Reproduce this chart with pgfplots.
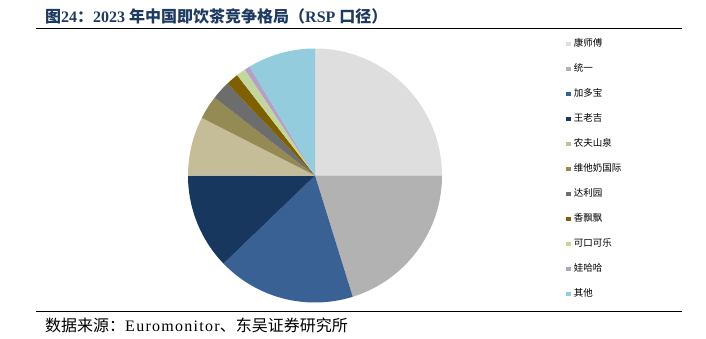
\documentclass[border=0pt]{standalone}
\usepackage{pgfplots}
\pgfplotsset{compat=1.18}
\usepackage{pgfplotstable}
\usepackage{fontspec}
\setmainfont{Liberation Serif}
\newfontfamily\cjk{Noto Sans CJK SC}
\newfontfamily\lsp[LetterSpace=8]{Liberation Serif}
\definecolor{c1}{HTML}{DEDEDE}
\definecolor{c2}{HTML}{B2B2B2}
\definecolor{c3}{HTML}{3A6193}
\definecolor{c4}{HTML}{17375E}
\definecolor{c5}{HTML}{C4BD97}
\definecolor{c6}{HTML}{948A54}
\definecolor{c7}{HTML}{6D6D6D}
\definecolor{c8}{HTML}{7F6000}
\definecolor{c9}{HTML}{C3D69B}
\definecolor{c10}{HTML}{B3A2C7}
\definecolor{c11}{HTML}{93CDDD}
\definecolor{titleblue}{HTML}{1F3A60}
\pgfplotstableread[col sep=comma]{
brand,share,col
康师傅,25.0,c1
统一,20.2,c2
加多宝,17.6,c3
王老吉,12.2,c4
农夫山泉,7.5,c5
维他奶国际,3.0,c6
达利园,2.4,c7
香飘飘,1.6,c8
可口可乐,1.2,c9
娃哈哈,0.7,c10
其他,8.6,c11
}\piedata
\begin{document}
\begin{tikzpicture}
\path[use as bounding box] (0pt,0pt) rectangle (706pt,338pt);
% title
\node[anchor=base west, inner sep=0pt, text=titleblue, font=\fontsize{16}{18}\selectfont\bfseries] at (45pt,315pt)
  {{\cjk 图}24{\cjk ：}2023 {\cjk 年中国即饮茶竞争格局（}RSP {\cjk 口径）}};
\draw[line width=1.2pt] (36pt,309.5pt) -- (682pt,309.5pt);
\draw[line width=0.8pt] (36pt,27pt) -- (682pt,27pt);
\node[anchor=base west, inner sep=0pt, font=\fontsize{16}{18}\selectfont] at (45pt,7pt)
  {{\cjk 数据来源：}{\lsp Euromonitor}{\cjk 、东吴证券研究所}};
\begin{axis}[
  at={(315pt,162.5pt)}, anchor=center,
  scale only axis, width=254pt, height=254pt,
  xmin=-1, xmax=1, ymin=-1, ymax=1,
  hide axis, clip=false,
  legend cell align=left,
  legend image code/.code={\fill[#1] (0pt,-2.3pt) rectangle (4.6pt,2.3pt);},
  legend style={at={(1.488,1.037)}, anchor=north west, draw=none, fill=none,
    font=\cjk\fontsize{9.5}{10}\selectfont, inner sep=0pt, row sep=16pt, column sep=3pt,
    nodes={inner sep=0pt, text height=7pt, text depth=2pt}},
]
\pgfplotstablegetrowsof{\piedata}
\pgfmathtruncatemacro\lastrow{\pgfplotsretval-1}
\def\cum{0}
\pgfplotsforeachungrouped \i in {0,...,\lastrow}{%
  \pgfplotstablegetelem{\i}{share}\of\piedata \let\val\pgfplotsretval
  \pgfplotstablegetelem{\i}{col}\of\piedata \let\col\pgfplotsretval
  \pgfplotstablegetelem{\i}{brand}\of\piedata \let\brand\pgfplotsretval
  \pgfmathsetmacro\aa{90-3.6*\cum}
  \pgfmathsetmacro\bb{90-3.6*(\cum+\val)}
  \edef\temp{\noexpand\addplot[fill=\col, draw=none, domain=\bb:\aa, samples=90, variable=\noexpand\t] ({cos(\noexpand\t)},{sin(\noexpand\t)}) -- (axis cs:0,0) -- cycle; \noexpand\addlegendentry{\brand}}
  \temp
  \pgfmathsetmacro\cum{\cum+\val}
}
\end{axis}
\end{tikzpicture}
\end{document}
